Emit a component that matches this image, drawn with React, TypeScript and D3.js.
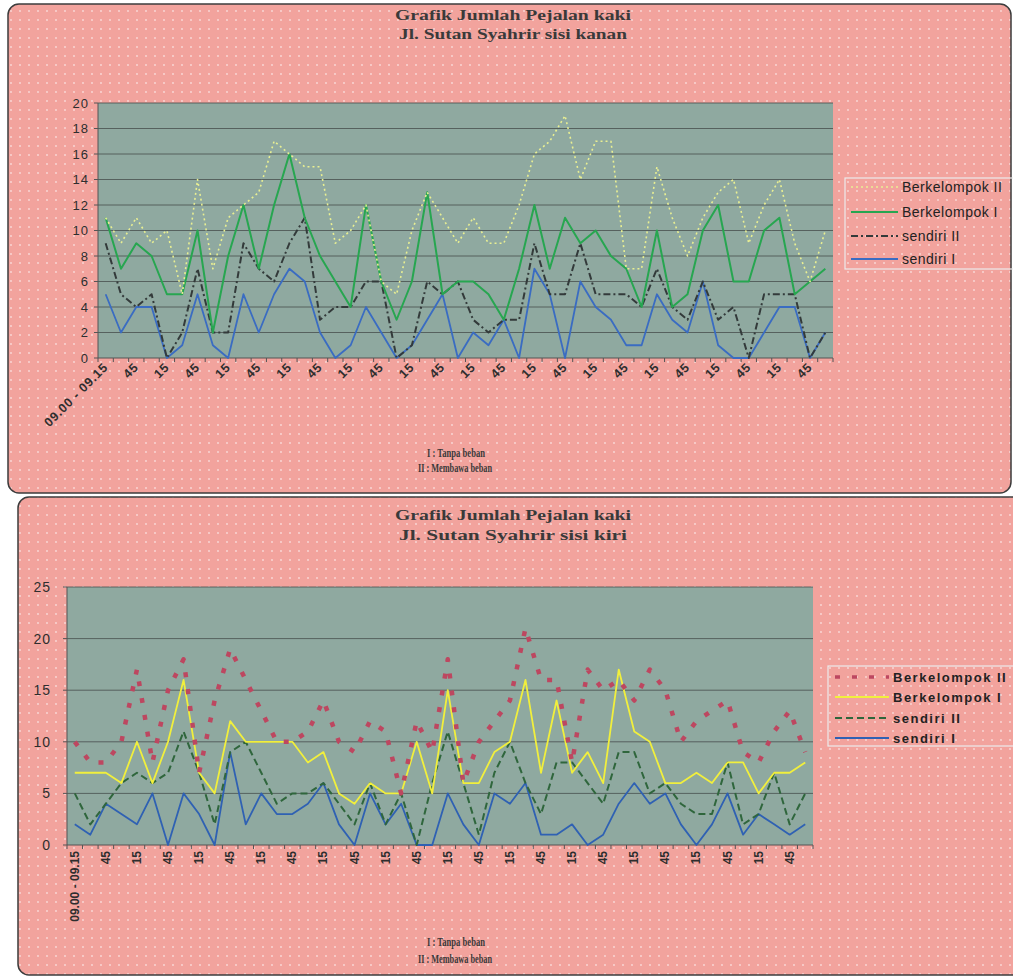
import * as d3 from "d3";

// 15-minute periods, 09.00 - 21.00
const categories = [
  "09.00 - 09.15", "09.15 - 09.30", "09.30 - 09.45", "09.45 - 10.00",
  "10.00 - 10.15", "10.15 - 10.30", "10.30 - 10.45", "10.45 - 11.00",
  "11.00 - 11.15", "11.15 - 11.30", "11.30 - 11.45", "11.45 - 12.00",
  "12.00 - 12.15", "12.15 - 12.30", "12.30 - 12.45", "12.45 - 13.00",
  "13.00 - 13.15", "13.15 - 13.30", "13.30 - 13.45", "13.45 - 14.00",
  "14.00 - 14.15", "14.15 - 14.30", "14.30 - 14.45", "14.45 - 15.00",
  "15.00 - 15.15", "15.15 - 15.30", "15.30 - 15.45", "15.45 - 16.00",
  "16.00 - 16.15", "16.15 - 16.30", "16.30 - 16.45", "16.45 - 17.00",
  "17.00 - 17.15", "17.15 - 17.30", "17.30 - 17.45", "17.45 - 18.00",
  "18.00 - 18.15", "18.15 - 18.30", "18.30 - 18.45", "18.45 - 19.00",
  "19.00 - 19.15", "19.15 - 19.30", "19.30 - 19.45", "19.45 - 20.00",
  "20.00 - 20.15", "20.15 - 20.30", "20.30 - 20.45", "20.45 - 21.00",
];

// every second category gets a label, as printed
const tickLabels = [
  "09.00 - 09.15", "45", "15", "45", "15", "45", "15", "45", "15", "45", "15", "45",
  "15", "45", "15", "45", "15", "45", "15", "45", "15", "45", "15", "45",
];

const seriesNames = ["Berkelompok II", "Berkelompok I", "sendiri II", "sendiri I"];

// Jl. Sutan Syahrir sisi kanan
const kananBerkelompokII = [
  11, 9, 11, 9, 10, 5, 14, 7, 11, 12, 13, 17, 16, 15, 15, 9, 10, 12, 6, 5, 10, 13, 11, 9,
  11, 9, 9, 12, 16, 17, 19, 14, 17, 17, 7, 7, 15, 11, 8, 11, 13, 14, 9, 12, 14, 9, 6, 10,
];
const kananBerkelompokI = [
  11, 7, 9, 8, 5, 5, 10, 2, 8, 12, 7, 12, 16, 11, 8, 6, 4, 12, 6, 3, 6, 13, 5, 6,
  6, 5, 3, 7, 12, 7, 11, 9, 10, 8, 7, 4, 10, 4, 5, 10, 12, 6, 6, 10, 11, 5, 6, 7,
];
const kananSendiriII = [
  9, 5, 4, 5, 0, 2, 7, 2, 2, 9, 7, 6, 9, 11, 3, 4, 4, 6, 6, 0, 1, 6, 5, 6,
  3, 2, 3, 3, 9, 5, 5, 9, 5, 5, 5, 4, 7, 4, 3, 6, 3, 4, 0, 5, 5, 5, 0, 2,
];
const kananSendiriI = [
  5, 2, 4, 4, 0, 1, 5, 1, 0, 5, 2, 5, 7, 6, 2, 0, 1, 4, 2, 0, 1, 3, 5, 0,
  2, 1, 3, 0, 7, 5, 0, 6, 4, 3, 1, 1, 5, 3, 2, 6, 1, 0, 0, 2, 4, 4, 0, 2,
];

// Jl. Sutan Syahrir sisi kiri
const kiriBerkelompokII = [
  10, 8, 8, 10, 17, 8, 15, 18, 7, 14, 19, 16, 13, 10, 10, 11,
  14, 10, 9, 12, 11, 5, 12, 9, 18, 6, 10, 12, 14, 21, 16, 16,
  8, 17, 15, 16, 14, 17, 15, 10, 12, 13, 14, 9, 8, 11, 13, 9,
];
const kiriBerkelompokI = [
  7, 7, 7, 6, 10, 6, 10, 16, 7, 5, 12, 10, 10, 10, 10, 8,
  9, 5, 4, 6, 5, 5, 10, 5, 15, 6, 6, 9, 10, 16, 7, 14,
  7, 9, 6, 17, 11, 10, 6, 6, 7, 6, 8, 8, 5, 7, 7, 8,
];
const kiriSendiriII = [
  5, 2, 4, 6, 7, 6, 7, 11, 7, 2, 9, 10, 7, 4, 5, 5,
  6, 4, 2, 6, 2, 5, 0, 6, 11, 6, 1, 7, 10, 6, 3, 8,
  8, 6, 4, 9, 9, 5, 6, 4, 3, 3, 8, 2, 3, 7, 2, 5,
];
const kiriSendiriI = [
  2, 1, 4, 3, 2, 5, 0, 5, 3, 0, 9, 2, 5, 3, 3, 4,
  6, 2, 0, 5, 2, 4, 0, 0, 5, 2, 0, 5, 4, 6, 1, 1,
  2, 0, 1, 4, 6, 4, 5, 2, 0, 2, 5, 1, 3, 2, 1, 2,
];

const PINK = "#f2a39d";
const PLOT_BG = "#8fa9a0";
const GRID = "#4d5553";
const TEXT = "#2e2e2e";

interface LineStyle {
  color: string;
  width: number;
  dash?: string;
  cap?: "butt" | "round";
}

interface ChartProps {
  panel: { x: number; y: number; w: number; h: number };
  plot: { left: number; right: number; top: number; bottom: number };
  yMax: number;
  yStep: number;
  series: number[][];
  styles: LineStyle[];
  titles: string[];
  titleY: number[];
  xLabelMode: "diag" | "vert";
  yLabelX: number;
  yFont: number;
  legend: { x: number; y: number; w: number; h: number; rows: number[]; sampleX: [number, number]; textX: number; bold: boolean; font: number; spacing: number };
  notesY: number[];
}

const Chart = ({ panel, plot, yMax, yStep, series, styles, titles, titleY, xLabelMode, yLabelX, yFont, legend, notesY }: ChartProps) => {
  const x = d3.scaleBand<string>().domain(categories).range([plot.left, plot.right]);
  const y = d3.scaleLinear().domain([0, yMax]).range([plot.bottom, plot.top]);
  const yTicks = d3.range(0, yMax + yStep / 2, yStep);
  const line = d3
    .line<number>()
    .x((_, i) => (x(categories[i]) ?? 0) + x.bandwidth() / 2)
    .y((d) => y(d));

  // draw order: sendiri I first, Berkelompok II on top
  const order = [3, 2, 1, 0];

  return (
    <g>
      <rect x={panel.x} y={panel.y} width={panel.w} height={panel.h} rx={11} fill={PINK} />
      <rect x={panel.x} y={panel.y} width={panel.w} height={panel.h} rx={11} fill="url(#dots)" stroke="#3c3c3c" strokeWidth={1.5} />

      {titles.map((t, i) => (
        <text key={t} x={513} y={titleY[i]} textAnchor="middle" fontFamily="Liberation Serif" fontWeight="bold" fontSize={15} fill="#3a3a3a" textLength={i === 0 ? 236 : 228} lengthAdjust="spacingAndGlyphs">
          {t}
        </text>
      ))}

      <rect x={plot.left} y={plot.top} width={plot.right - plot.left} height={plot.bottom - plot.top} fill={PLOT_BG} />
      {yTicks.slice(1).map((t) => (
        <line key={t} x1={plot.left} x2={plot.right} y1={y(t)} y2={y(t)} stroke={GRID} strokeWidth={1} opacity={0.85} />
      ))}
      {/* y axis */}
      <line x1={plot.left} x2={plot.left} y1={plot.top} y2={plot.bottom} stroke="#555" />
      {yTicks.map((t) => (
        <g key={t}>
          <line x1={plot.left - 4} x2={plot.left} y1={y(t)} y2={y(t)} stroke="#555" />
          <text x={yLabelX} y={y(t)} dy="0.35em" textAnchor="end" fontFamily="Liberation Sans" fontSize={yFont} letterSpacing={1} fill={TEXT}>
            {t}
          </text>
        </g>
      ))}
      {/* x axis */}
      <line x1={plot.left} x2={plot.right} y1={plot.bottom} y2={plot.bottom} stroke="#555" />
      {categories.map((c) => (
        <line key={c} x1={x(c)} x2={x(c)} y1={plot.bottom} y2={plot.bottom + 4} stroke="#555" />
      ))}
      <line x1={plot.right} x2={plot.right} y1={plot.bottom} y2={plot.bottom + 4} stroke="#555" />
      {tickLabels.map((lab, k) => {
        const cx = (x(categories[k * 2]) ?? 0) + x.bandwidth() / 2;
        const diag = xLabelMode === "diag";
        const tr = diag ? `translate(${cx + 3}, ${plot.bottom + 10}) rotate(-45)` : `translate(${cx + 4}, ${plot.bottom + 6}) rotate(-90)`;
        return (
          <text key={k} transform={tr} textAnchor="end" fontFamily="Liberation Sans" fontSize={diag ? 12.5 : 12} fontWeight="bold" letterSpacing={diag ? 0.8 : 0} fill={TEXT}>
            {lab}
          </text>
        );
      })}

      {order.map((s) => (
        <path
          key={s}
          d={line(series[s]) ?? ""}
          fill="none"
          stroke={styles[s].color}
          strokeWidth={styles[s].width}
          strokeDasharray={styles[s].dash}
          strokeLinecap={styles[s].cap ?? "butt"}
          strokeLinejoin="round"
        />
      ))}

      {/* legend */}
      <rect x={legend.x} y={legend.y} width={legend.w} height={legend.h} fill="none" stroke="#ececec" strokeWidth={1.2} />
      {seriesNames.map((n, i) => (
        <g key={n}>
          <line x1={legend.sampleX[0]} x2={legend.sampleX[1]} y1={legend.rows[i]} y2={legend.rows[i]} stroke={styles[i].color} strokeWidth={Math.min(styles[i].width, 3.5)} strokeDasharray={styles[i].dash} strokeLinecap={styles[i].cap ?? "butt"} />
          <text x={legend.textX} y={legend.rows[i]} dy="0.35em" fontFamily="Liberation Sans" fontWeight={legend.bold ? "bold" : "normal"} fontSize={legend.font} letterSpacing={legend.spacing} fill="#222">
            {n}
          </text>
        </g>
      ))}

      <text x={456} y={notesY[0]} textAnchor="middle" fontFamily="Liberation Serif" fontWeight="bold" fontSize={12.5} fill="#3a3a3a" textLength={58} lengthAdjust="spacingAndGlyphs">
        I : Tanpa beban
      </text>
      <text x={455} y={notesY[1]} textAnchor="middle" fontFamily="Liberation Serif" fontWeight="bold" fontSize={12.5} fill="#3a3a3a" textLength={74} lengthAdjust="spacingAndGlyphs">
        II : Membawa beban
      </text>
    </g>
  );
};

const kananStyles: LineStyle[] = [
  { color: "#e9ef92", width: 1.6, dash: "2 3" },
  { color: "#27a650", width: 2 },
  { color: "#333a3a", width: 2, dash: "7 3 2 3" },
  { color: "#3a6cc2", width: 1.8 },
];

const kiriStyles: LineStyle[] = [
  { color: "#bd4760", width: 4.5, dash: "5 12" },
  { color: "#f1ef3c", width: 1.8 },
  { color: "#2f663c", width: 2, dash: "7 4" },
  { color: "#2f61b3", width: 1.8 },
];

export default function App() {
  return (
    <svg width={1013} height={978} style={{ position: "absolute", left: 0, top: 0, background: "#fff" }}>
      <defs>
        <pattern id="dots" width={9} height={9} patternUnits="userSpaceOnUse">
          <circle cx={2} cy={2} r={0.9} fill="#fff" opacity={0.6} />
        </pattern>
      </defs>
      <Chart
        panel={{ x: 8, y: 4, w: 1003, h: 489 }}
        plot={{ left: 98, right: 833, top: 103, bottom: 358 }}
        yMax={20}
        yStep={2}
        series={[kananBerkelompokII, kananBerkelompokI, kananSendiriII, kananSendiriI]}
        styles={kananStyles}
        titles={["Grafik Jumlah Pejalan kaki", "Jl. Sutan Syahrir sisi kanan"]}
        titleY={[20, 39]}
        xLabelMode="diag"
        yLabelX={89}
        yFont={13}
        legend={{ x: 845, y: 178, w: 175, h: 91, rows: [187, 212, 236, 259], sampleX: [851, 898], textX: 902, bold: false, font: 14, spacing: 0.5 }}
        notesY={[457, 472]}
      />
      <Chart
        panel={{ x: 18, y: 497, w: 1010, h: 478 }}
        plot={{ left: 67, right: 813, top: 587, bottom: 845 }}
        yMax={25}
        yStep={5}
        series={[kiriBerkelompokII, kiriBerkelompokI, kiriSendiriII, kiriSendiriI]}
        styles={kiriStyles}
        titles={["Grafik Jumlah Pejalan kaki", "Jl. Sutan Syahrir sisi kiri"]}
        titleY={[520, 540]}
        xLabelMode="vert"
        yLabelX={51}
        yFont={14}
        legend={{ x: 828, y: 666, w: 190, h: 80, rows: [677, 697, 718, 738], sampleX: [835, 889], textX: 893, bold: true, font: 13, spacing: 1.5 }}
        notesY={[946, 963]}
      />
    </svg>
  );
}
